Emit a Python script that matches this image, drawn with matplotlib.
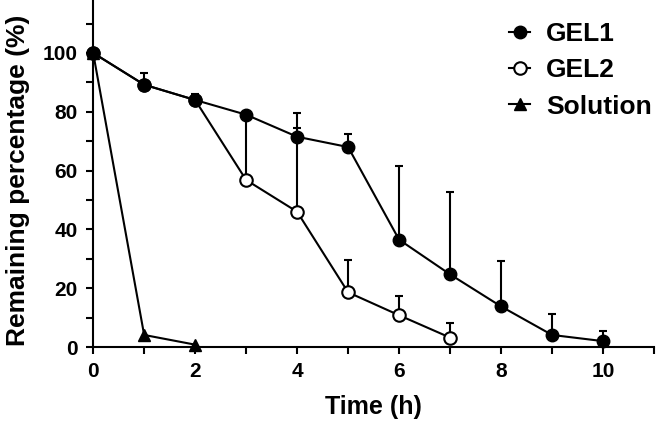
import numpy as np
import matplotlib
matplotlib.use('Agg')
from matplotlib import pyplot as plt
from matplotlib.ticker import MultipleLocator
from matplotlib.lines import Line2D

plt.rcParams['font.family'] = ['Liberation Sans', 'DejaVu Sans']
plt.rcParams['font.weight'] = 'bold'

# data
t_gel1 = [0, 1, 2, 3, 4, 5, 6, 7, 8, 9, 10]
gel1 = [100, 89.2, 84, 79, 71.5, 68, 36.5, 24.7, 13.8, 4.1, 2.0]
gel1_err = [0, 4, 2, 0, 3, 4.3, 25, 28, 15.5, 7, 3.5]

t_gel2 = [0, 1, 2, 3, 4, 5, 6, 7]
gel2 = [100, 89.2, 84, 56.8, 46, 18.6, 10.8, 3.2]
gel2_err = [0, 0, 0, 22, 33.6, 11, 6.4, 5]

t_sol = [0, 1, 2]
sol = [100, 4.1, 0.8]

fig = plt.figure(figsize=(6.56, 4.25), dpi=100)
ax = fig.add_axes([0.142, 0.1835, 0.855, 0.8165])

kw = dict(color='black', lw=1.5, ms=9, capsize=3, elinewidth=1.5, capthick=1.5)
e2 = ax.errorbar(t_gel2, gel2, yerr=[np.zeros(len(gel2_err)), gel2_err], fmt='-o',
                 mfc='white', mec='black', mew=1.5, zorder=2, **kw)
e1 = ax.errorbar(t_gel1, gel1, yerr=[np.zeros(len(gel1_err)), gel1_err], fmt='-o',
                 mfc='black', mec='black', zorder=3, **kw)
ax.plot(t_sol, sol, '-^', color='black', lw=1.5, ms=9, zorder=4, clip_on=False)
for e in (e1, e2):
    e[0].set_clip_on(False)

ax.set_xlim(0, 11)
ax.set_ylim(0, 118)
ax.xaxis.set_major_locator(MultipleLocator(2))
ax.xaxis.set_minor_locator(MultipleLocator(1))
ax.yaxis.set_major_locator(MultipleLocator(20))
ax.yaxis.set_minor_locator(MultipleLocator(10))
ax.tick_params(which='both', direction='out', width=1.5, length=5, labelsize=15)
ax.tick_params(axis='y', pad=6)
ax.tick_params(axis='x', pad=6)
for s in ['top', 'right']:
    ax.spines[s].set_visible(False)
for s in ['left', 'bottom']:
    ax.spines[s].set_linewidth(1.5)
ax.set_xlabel('Time (h)', fontsize=18, fontweight='bold', labelpad=10)
ax.set_ylabel('Remaining percentage (%)', fontsize=19, fontweight='bold')
ax.yaxis.set_label_coords(-0.112, 0.48)

handles = [
    Line2D([], [], color='black', lw=1.5, marker='o', ms=9, mfc='black'),
    Line2D([], [], color='black', lw=1.5, marker='o', ms=9, mfc='white', mew=1.5),
    Line2D([], [], color='black', lw=1.5, marker='^', ms=9),
]
ax.legend(handles, ['GEL1', 'GEL2', 'Solution'], loc='upper right',
          bbox_to_anchor=(0.996, 0.937), frameon=False, fontsize=19,
          handlelength=0.8, handletextpad=0.6, labelspacing=0.47,
          borderpad=0, borderaxespad=0)

plt.savefig('out.png', dpi=100)
